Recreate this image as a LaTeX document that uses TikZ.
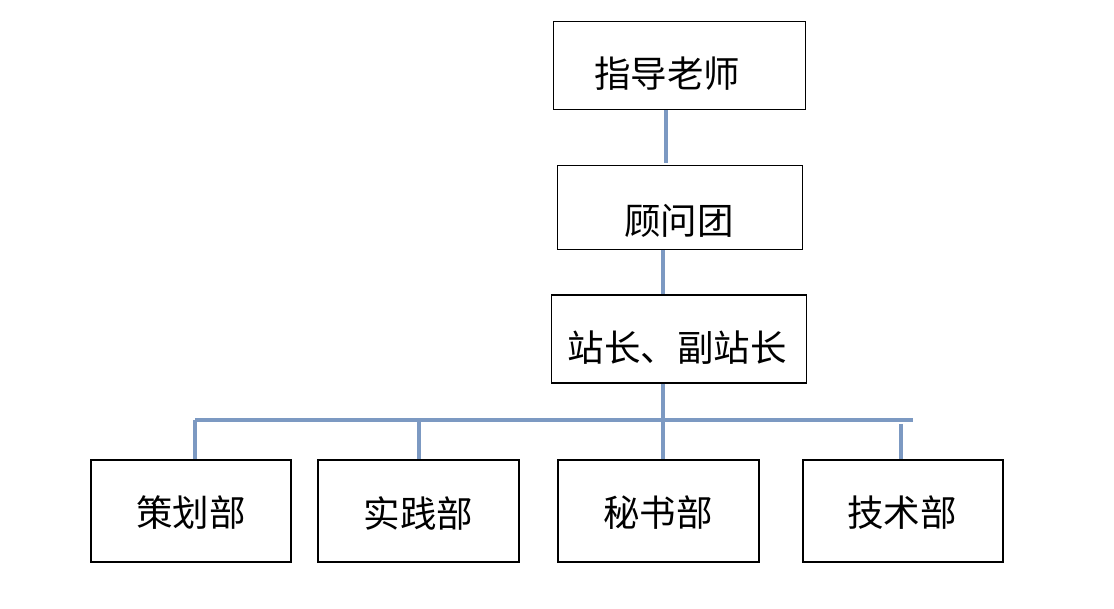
\documentclass[tikz,border=0pt]{standalone}
\usepackage{fontspec}
\newfontfamily\cjk{Noto Sans CJK SC}
\definecolor{linkblue}{RGB}{124,153,194}
\begin{document}
\begin{tikzpicture}[x=1pt,y=1pt,
  box/.style={draw=black, line width=1.8pt, fill=white, inner sep=0pt},
  txt/.style={font=\cjk\fontsize{36.5}{36.5}\selectfont, inner sep=0pt, text=black},
  link/.style={draw=linkblue, line width=3.3pt}]
\useasboundingbox (0,0) rectangle (1114,-609);
% boxes
\node[box, minimum width=252pt, minimum height=88pt] (a) at (679.5,-65.5) {};
\node[box, minimum width=245pt, minimum height=84pt] (b) at (680,-207.5) {};
\node[box, minimum width=255pt, minimum height=88pt] (c) at (679,-339) {};
\node[box, minimum width=200pt, minimum height=102pt] (d1) at (191,-511) {};
\node[box, minimum width=201pt, minimum height=102pt] (d2) at (418.5,-511) {};
\node[box, minimum width=201pt, minimum height=102pt] (d3) at (658.5,-511) {};
\node[box, minimum width=200pt, minimum height=102pt] (d4) at (903,-511) {};
% labels
\node[txt] (ta) at (667,-74) {指导老师};
\node[txt] (tb) at (679,-221) {顾问团};
\node[txt] (tc) at (677,-348) {站长、副站长};
\node[txt] (td1) at (191,-513) {策划部};
\node[txt] (td2) at (418.5,-513) {实践部};
\node[txt] (td3) at (658,-513) {秘书部};
\node[txt] (td4) at (902,-513) {技术部};
% connector helpers
\coordinate (x1) at (666,0);
\coordinate (x2) at (663,0);
\coordinate (x3) at (419,0);
\coordinate (hl) at (195,-420);
\coordinate (hr) at (913,-420);
\coordinate (x4) at (901,-424);
% connectors
\draw[link] (a.south -| x1) -- ([yshift=2pt]b.north -| x1);
\draw[link] (b.south -| x2) -- (c.north -| x2);
\draw[link] (c.south -| x2) -- (d3.north -| x2);
\draw[link] (hl) -- (hr);
\draw[link] (hl) -- (d1.north -| hl);
\draw[link] (hl -| x3) -- (d2.north -| x3);
\draw[link] (x4) -- (d4.north -| x4);
\end{tikzpicture}
\end{document}
